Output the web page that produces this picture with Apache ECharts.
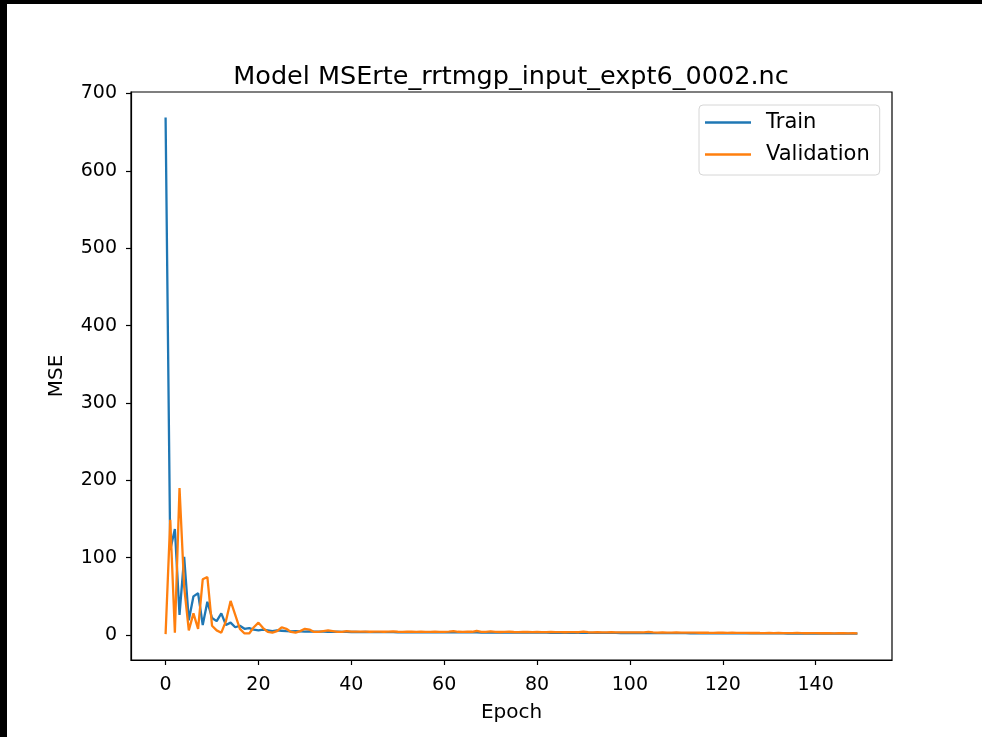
<!DOCTYPE html>
<html>
<head>
<meta charset="utf-8">
<title>Model MSE</title>
<script src="https://cdn.jsdelivr.net/npm/echarts@6/dist/echarts.min.js"></script>
<style>
  html, body { margin: 0; padding: 0; background: #000; }
  #main { position: absolute; left: 7px; top: 4px; width: 975px; height: 733px; background: #fff; }
</style>
</head>
<body>
<div id="main"></div>
<script>
// 数据
var chartTitle = 'Model MSErte_rrtmgp_input_expt6_0002.nc';
var seriesNames = ['Train', 'Validation'];
var xTicks = [0, 20, 40, 60, 80, 100, 120, 140];
var yTicks = [0, 100, 200, 300, 400, 500, 600, 700];

var trainLoss = [
  669, 110, 137, 26, 101, 19, 50, 54, 13, 43,
  22, 18, 28, 13, 16, 10, 12, 8, 9, 7,
  6, 7, 6, 5, 6, 5.5, 5, 4.8, 5, 4.6,
  4.5, 4.6, 4.4, 4.3, 4.4, 4.2, 4.1, 4.2, 4.0, 4.0,
  3.9, 3.9, 3.8, 3.9, 3.8, 3.8, 3.7, 3.8, 3.7, 3.7,
  3.6, 3.7, 3.6, 3.6, 3.5, 3.6, 3.5, 3.5, 3.4, 3.5,
  3.4, 3.4, 3.4, 3.3, 3.4, 3.3, 3.3, 3.3, 3.2, 3.3,
  3.2, 3.2, 3.2, 3.1, 3.2, 3.1, 3.1, 3.1, 3.0, 3.1,
  3.0, 3.0, 3.0, 2.9, 3.0, 2.9, 2.9, 2.9, 2.8, 2.9,
  2.8, 2.8, 2.8, 2.7, 2.8, 2.7, 2.7, 2.7, 2.6, 2.7,
  2.6, 2.6, 2.6, 2.5, 2.6, 2.5, 2.5, 2.5, 2.4, 2.5,
  2.4, 2.4, 2.4, 2.3, 2.4, 2.3, 2.3, 2.3, 2.2, 2.3,
  2.2, 2.2, 2.2, 2.1, 2.2, 2.1, 2.1, 2.1, 2.0, 2.1,
  2.0, 2.0, 2.0, 2.0, 1.9, 2.0, 1.9, 1.9, 1.9, 1.9,
  1.8, 1.9, 1.8, 1.8, 1.8, 1.8, 1.7, 1.8, 1.7, 1.7
];

var valLoss = [
  1.2, 149, 3, 190, 62, 6, 28, 8, 72, 75,
  12, 6, 3, 18, 44, 26, 8, 2, 2, 10,
  16, 9, 4, 3, 5, 10, 8, 4, 3, 5,
  8, 7, 4, 4, 5, 6, 5, 4, 4, 5,
  4.4, 4.3, 4.5, 4.3, 4.2, 4.4, 4.3, 4.2, 4.5, 4.6,
  4.2, 4.1, 4.3, 4.2, 4.1, 4.2, 4.0, 4.1, 4.2, 4.0,
  4.1, 4.3, 5.0, 4.2, 4.1, 4.3, 4.2, 5.2, 4.1, 4.0,
  4.8, 4.1, 3.9, 4.0, 4.2, 3.9, 3.8, 4.0, 3.9, 3.8,
  3.9, 3.8, 3.7, 3.9, 3.8, 3.7, 3.6, 3.8, 3.7, 3.6,
  4.4, 3.6, 3.5, 3.6, 3.5, 3.4, 3.6, 3.5, 3.4, 3.5,
  3.4, 3.3, 3.5, 3.3, 4.0, 3.3, 3.2, 3.4, 3.2, 3.1,
  3.3, 3.1, 3.0, 3.2, 3.0, 2.9, 3.1, 2.9, 2.8, 3.0,
  2.9, 2.8, 2.9, 2.7, 2.8, 2.7, 2.6, 2.8, 2.6, 2.5,
  2.7, 2.5, 2.6, 2.4, 2.5, 2.4, 2.6, 2.4, 2.3, 2.5,
  2.4, 2.3, 2.4, 2.3, 2.2, 2.4, 2.3, 2.2, 2.3, 2.2
];

function toPairs(arr) {
  return arr.map(function (v, i) { return [i, v]; });
}

var font = 'DejaVu Sans';
var myChart = echarts.init(document.getElementById('main'));

option = {
  animation: false,
  backgroundColor: '#fff',
  title: {
    text: chartTitle,
    left: 499,
    top: 55,
    textAlign: 'center',
    textStyle: { fontFamily: font, fontSize: 25.5, fontWeight: 'normal', color: '#000' }
  },
  legend: {
    data: seriesNames,
    orient: 'vertical',
    left: 692,
    top: 101,
    padding: [7, 10, 10, 6],
    icon: 'rect',
    itemWidth: 46,
    itemHeight: 2.4,
    itemGap: 11,
    backgroundColor: 'rgba(255,255,255,0.8)',
    borderColor: '#d6d6d6',
    borderWidth: 1,
    borderRadius: 4,
    textStyle: { fontFamily: font, fontSize: 21, lineHeight: 20, color: '#000', padding: [0, 0, 0, 10] }
  },
  grid: {
    left: 124,
    top: 88,
    width: 761,
    height: 568,
    show: true,
    borderColor: '#000',
    borderWidth: 1.2,
    containLabel: false
  },
  xAxis: {
    type: 'value',
    min: -7.45,
    max: 156.45,
    name: 'Epoch',
    nameLocation: 'middle',
    nameGap: 43,
    nameTextStyle: { fontFamily: font, fontSize: 20, color: '#000' },
    axisLine: { onZero: false, lineStyle: { color: '#000', width: 1.2 } },
    axisTick: { show: true, length: 5, customValues: xTicks, lineStyle: { color: '#000', width: 1.2 } },
    axisLabel: { customValues: xTicks, margin: 16, fontFamily: font, fontSize: 19, color: '#000' },
    splitLine: { show: false }
  },
  yAxis: {
    type: 'value',
    min: -32.3,
    max: 702,
    name: 'MSE',
    nameLocation: 'middle',
    nameRotate: 90,
    nameGap: 64,
    nameTextStyle: { fontFamily: font, fontSize: 20, color: '#000' },
    axisLine: { show: true, onZero: false, lineStyle: { color: '#000', width: 1.2 } },
    axisTick: { show: true, length: 5, customValues: yTicks, lineStyle: { color: '#000', width: 1.2 } },
    axisLabel: { customValues: yTicks, margin: 14, fontFamily: font, fontSize: 19, color: '#000' },
    splitLine: { show: false }
  },
  series: [{
    name: seriesNames[0],
    type: 'line',
    symbol: 'none',
    showSymbol: false,
    itemStyle: { color: '#1f77b4' },
    lineStyle: { color: '#1f77b4', width: 2.3 },
    data: toPairs(trainLoss)
  }, {
    name: seriesNames[1],
    type: 'line',
    symbol: 'none',
    showSymbol: false,
    itemStyle: { color: '#ff7f0e' },
    lineStyle: { color: '#ff7f0e', width: 2.3 },
    data: toPairs(valLoss)
  }]
};

myChart.setOption(option);
window.addEventListener("resize", function () {
  myChart.resize();
});
</script>
</body>
</html>
